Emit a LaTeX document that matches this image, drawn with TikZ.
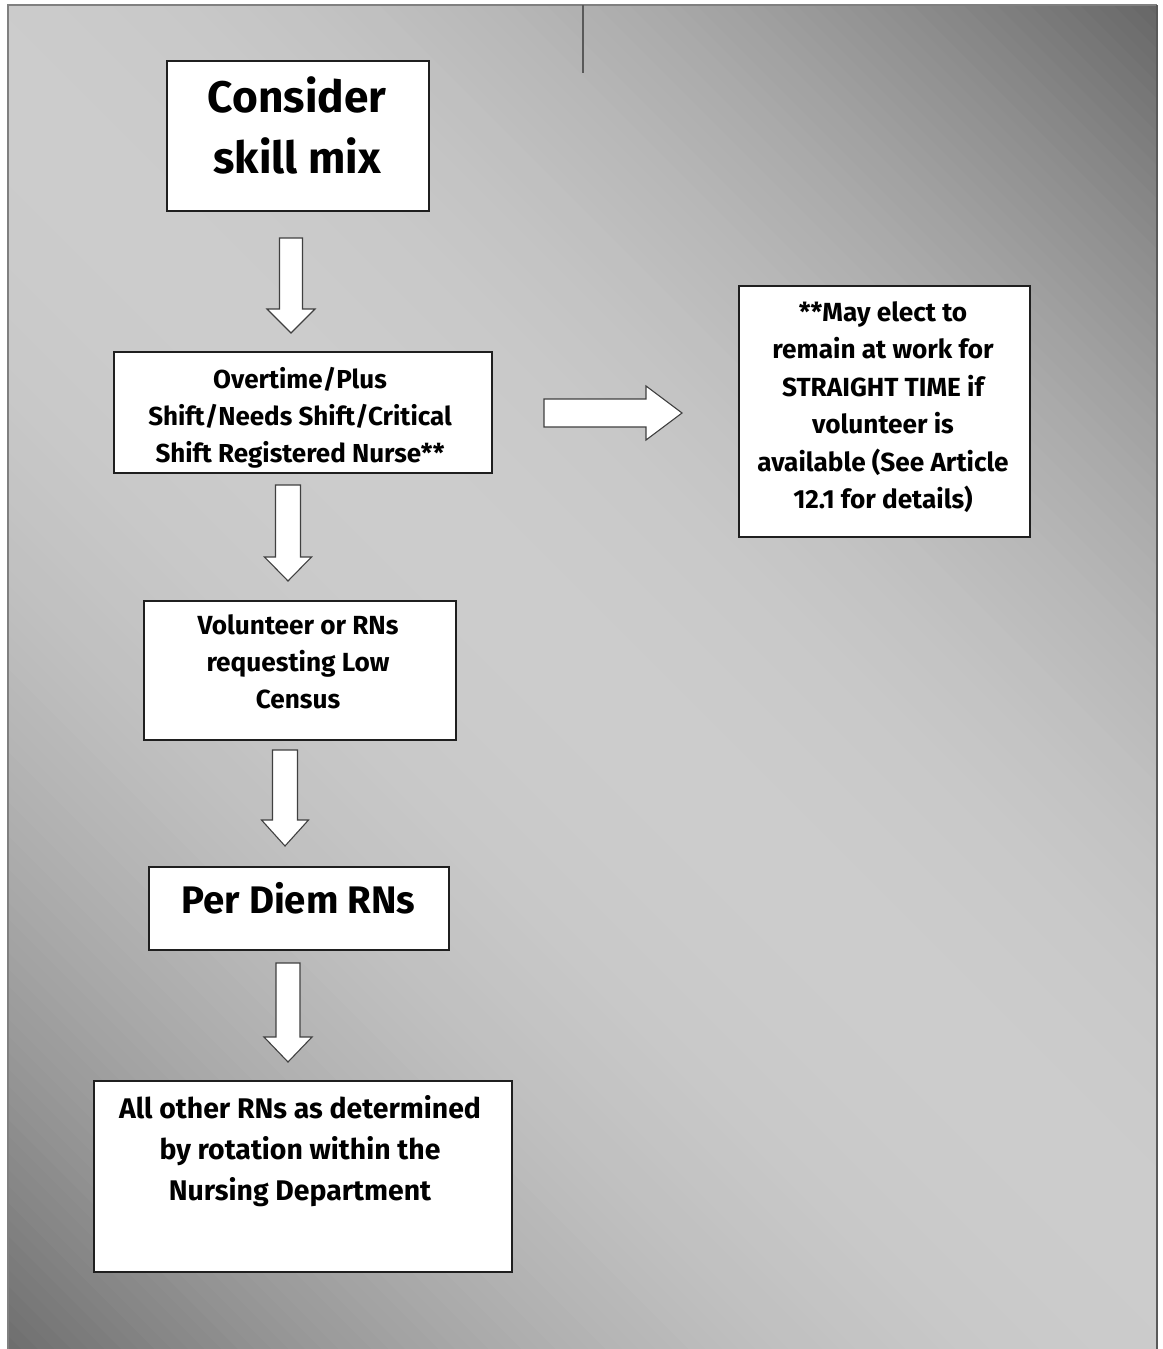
\documentclass[tikz,border=0pt]{standalone}
\usepackage{fontspec}
\setmainfont{Fira Sans}
\usetikzlibrary{calc}
\newcommand{\blkdown}[6]{\draw[blk] (#1-#5,#2) -- (#1+#5,#2) -- (#1+#5,#3) -- (#1+#6,#3) -- (#1,#4) -- (#1-#6,#3) -- (#1-#5,#3) -- cycle;}
\begin{document}
\begin{tikzpicture}[x=0.5pt,y=-0.5pt,
  box/.style={draw=black!88, line width=0.9pt, fill=white, inner sep=0pt, anchor=north west},
  blk/.style={draw=black!75, line width=0.55pt, fill=white, line join=miter},
  txt/.style={anchor=base, inner sep=0pt}]
\useasboundingbox (0,0) rectangle (1162,1349);
\fill[white] (0,0) rectangle (1162,1349);
% background gradient (45 degrees): dark at top-right and bottom-left, light along the main diagonal
\begin{scope}
\clip (8,5) rectangle (1157,1349);
\foreach \i in {0,...,149} {
  \pgfmathsetmacro{\gsa}{-884+\i*11.8}
  \pgfmathsetmacro{\gsb}{\gsa+12.4}
  \pgfmathsetmacro{\gsm}{(\gsa+5.9)/881}
  \pgfmathsetmacro{\gp}{ifthenelse(\gsm>0, 20+40*pow(abs(\gsm),2.1), 20+37*pow(abs(\gsm),2.1))}
  \fill[black!\gp]
    ({582.5+\gsa*0.7071-1000*0.7071},{677-\gsa*0.7071-1000*0.7071}) --
    ({582.5+\gsa*0.7071+1000*0.7071},{677-\gsa*0.7071+1000*0.7071}) --
    ({582.5+\gsb*0.7071+1000*0.7071},{677-\gsb*0.7071+1000*0.7071}) --
    ({582.5+\gsb*0.7071-1000*0.7071},{677-\gsb*0.7071-1000*0.7071}) -- cycle;
}
\end{scope}
\draw[black!50, line width=0.6pt] (8,1349) -- (8,5) -- (1157,5);
\draw[black!65, line width=0.8pt] (1157,5) -- (1157,1349);
\draw[black!65, line width=0.7pt] (583,5) -- (583,73);
% boxes
\node[box, minimum width=131pt, minimum height=75pt] (b1) at (166,60) {};
\node[box, minimum width=189pt, minimum height=60.5pt] (b2) at (113,351) {};
\node[box, minimum width=156pt, minimum height=69.5pt] (b3) at (143,600) {};
\node[box, minimum width=150pt, minimum height=41.5pt] (b4) at (148,866) {};
\node[box, minimum width=209pt, minimum height=95.5pt] (b5) at (93,1080) {};
\node[box, minimum width=145.5pt, minimum height=125.5pt] (b6) at (738,285) {};
% texts
\node[txt, font=\bfseries\fontsize{22.1pt}{30.5pt}\selectfont] (t1) at (297,112) {\begin{tabular}[t]{@{}c@{}}Consider\\skill mix\end{tabular}};
\node[txt, font=\bfseries\fontsize{13pt}{18.5pt}\selectfont] (t2) at (300,388) {\begin{tabular}[t]{@{}c@{}}Overtime/Plus\\Shift/Needs Shift/Critical\\Shift Registered Nurse**\end{tabular}};
\node[txt, font=\bfseries\fontsize{13.1pt}{18.5pt}\selectfont] (t3) at (298,634) {\begin{tabular}[t]{@{}c@{}}Volunteer or RNs\\requesting Low\\Census\end{tabular}};
\node[txt, font=\bfseries\fontsize{19.2pt}{22pt}\selectfont] (t4) at (298.5,913) {Per Diem RNs};
\node[txt, font=\bfseries\fontsize{14.2pt}{20.5pt}\selectfont] (t5) at (300,1118) {\begin{tabular}[t]{@{}c@{}}All other RNs as determined\\by rotation within the\\Nursing Department\end{tabular}};
\node[txt, font=\bfseries\fontsize{13.1pt}{18.75pt}\selectfont] (t6) at (883,321) {\begin{tabular}[t]{@{}c@{}}**May elect to\\remain at work for\\STRAIGHT TIME if\\volunteer is\\available (See Article\\12.1 for details)\end{tabular}};
% block arrows
\blkdown{291}{238}{309}{333}{11.5}{24}
\blkdown{288}{485}{557}{581}{12.5}{23.5}
\blkdown{285}{750}{820}{846}{12.5}{23.5}
\blkdown{288}{963}{1037}{1062}{12}{24}
\draw[blk] (544,399) -- (646,399) -- (646,386) -- (682,413) -- (646,440) -- (646,427) -- (544,427) -- cycle;
\end{tikzpicture}
\end{document}
